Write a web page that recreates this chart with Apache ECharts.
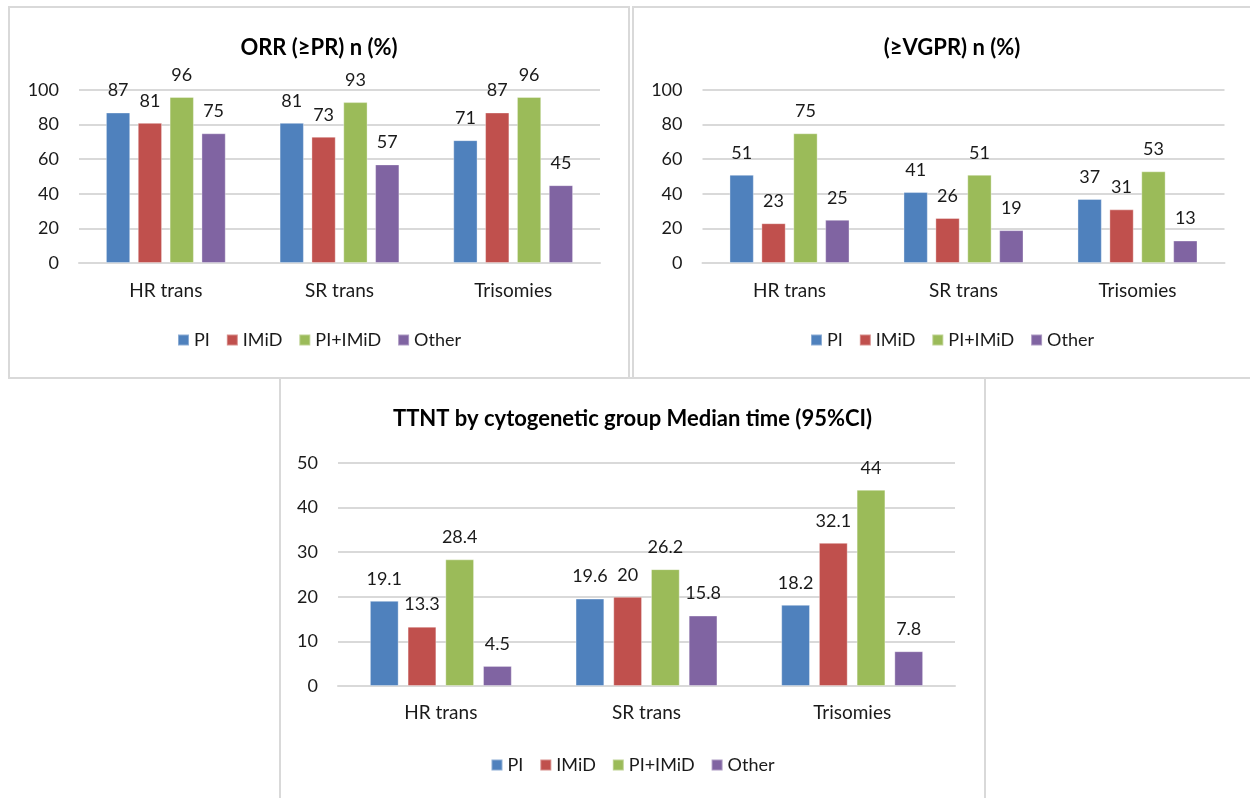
<!DOCTYPE html>
<html>
  <head>
    <meta charset="utf-8">
    <title>ECharts</title>
    <style type="text/css">
    body{margin:0;background:#fff;width:1250px;height:798px;overflow:hidden;position:relative;}
    .panel{position:absolute;border:2px solid #d9d9d9;box-sizing:border-box;background:#fff;}
    </style>
    <script src="https://cdn.jsdelivr.net/npm/echarts@6/dist/echarts.min.js"></script>
  </head>
  <body>
      <div class="panel" id="orr" style="left:8px;top:6px;width:622px;height:373px;"></div>
      <div class="panel" id="vgpr" style="left:632px;top:6px;width:640px;height:373px;"></div>
      <div class="panel" id="ttnt" style="left:279px;top:377px;width:707px;height:440px;"></div>

      <script type="text/javascript">
        var categories = ['HR trans', 'SR trans', 'Trisomies'];
        var seriesNames = ['PI', 'IMiD', 'PI+IMiD', 'Other'];
        var colors = ['#4f81bd', '#c0504d', '#9bbb59', '#8064a2'];

        // ORR (>=PR)
        var orrPI = [87, 81, 71];
        var orrIMiD = [81, 73, 87];
        var orrCombo = [96, 93, 96];
        var orrOther = [75, 57, 45];

        // >=VGPR
        var vgprPI = [51, 41, 37];
        var vgprIMiD = [23, 26, 31];
        var vgprCombo = [75, 51, 53];
        var vgprOther = [25, 19, 13];

        // TTNT median
        var ttntPI = [19.1, 19.6, 18.2];
        var ttntIMiD = [13.3, 20, 32.1];
        var ttntCombo = [28.4, 26.2, 44];
        var ttntOther = [4.5, 15.8, 7.8];

        var font = 'Lato, "Open Sans", sans-serif';
        var textColor = '#1a1a1a';

        function makeOption(title, lists, yMax, yInterval, g) {
          var series = [];
          for (var i = 0; i < lists.length; i++) {
            series.push({
              name: seriesNames[i],
              type: 'bar',
              data: lists[i],
              barGap: '31%',
              barCategoryGap: '31%',
              itemStyle: {color: colors[i], borderColor: 'rgba(255,255,255,0.35)', borderWidth: 1},
              label: {
                show: true,
                position: 'top',
                distance: 13,
                color: textColor,
                fontFamily: font,
                fontSize: g.fs
              }
            });
          }
          return {
            animation: false,
            color: colors,
            title: {
              text: title,
              left: 'center',
              top: g.titleTop,
              textStyle: {fontFamily: font, fontSize: g.tfs, fontWeight: 'bold', color: '#000'}
            },
            legend: {
              data: seriesNames,
              left: 'center',
              top: g.legendTop,
              icon: 'rect',
              itemWidth: 11,
              itemHeight: 11,
              itemGap: 16,
              selectedMode: false,
              textStyle: {fontFamily: font, fontSize: g.fs, color: textColor}
            },
            grid: {left: g.left, top: g.top, width: g.width, height: g.height},
            xAxis: {
              type: 'category',
              data: categories,
              axisTick: {show: false},
              axisLine: {lineStyle: {color: '#d9d9d9', width: 2}},
              axisLabel: {margin: g.xMargin, color: textColor, fontFamily: font, fontSize: g.fs + 1}
            },
            yAxis: {
              type: 'value',
              min: 0,
              max: yMax,
              interval: yInterval,
              axisLine: {show: false},
              axisTick: {show: false},
              splitLine: {lineStyle: {color: '#d9d9d9', width: 2}},
              axisLabel: {margin: 20, color: textColor, fontFamily: font, fontSize: g.fs}
            },
            series: series
          };
        }

        var chartOrr = echarts.init(document.getElementById('orr'));
        chartOrr.setOption(makeOption('ORR (≥PR) n (%)', [orrPI, orrIMiD, orrCombo, orrOther], 100, 20,
          {left: 69, top: 82, width: 521, height: 173, fs: 18, tfs: 22, titleTop: 24, xMargin: 18, legendTop: 318}));

        var chartVgpr = echarts.init(document.getElementById('vgpr'));
        chartVgpr.setOption(makeOption('(≥VGPR) n (%)', [vgprPI, vgprIMiD, vgprCombo, vgprOther], 100, 20,
          {left: 68.5, top: 82, width: 522, height: 173, fs: 18, tfs: 22, titleTop: 24, xMargin: 18, legendTop: 318}));

        var chartTtnt = echarts.init(document.getElementById('ttnt'));
        chartTtnt.setOption(makeOption('TTNT by cytogenetic group Median time (95%CI)', [ttntPI, ttntIMiD, ttntCombo, ttntOther], 50, 10,
          {left: 57, top: 84, width: 617, height: 223, fs: 18, tfs: 22, titleTop: 24, xMargin: 17, legendTop: 372}));
    </script>
  </body>
</html>
